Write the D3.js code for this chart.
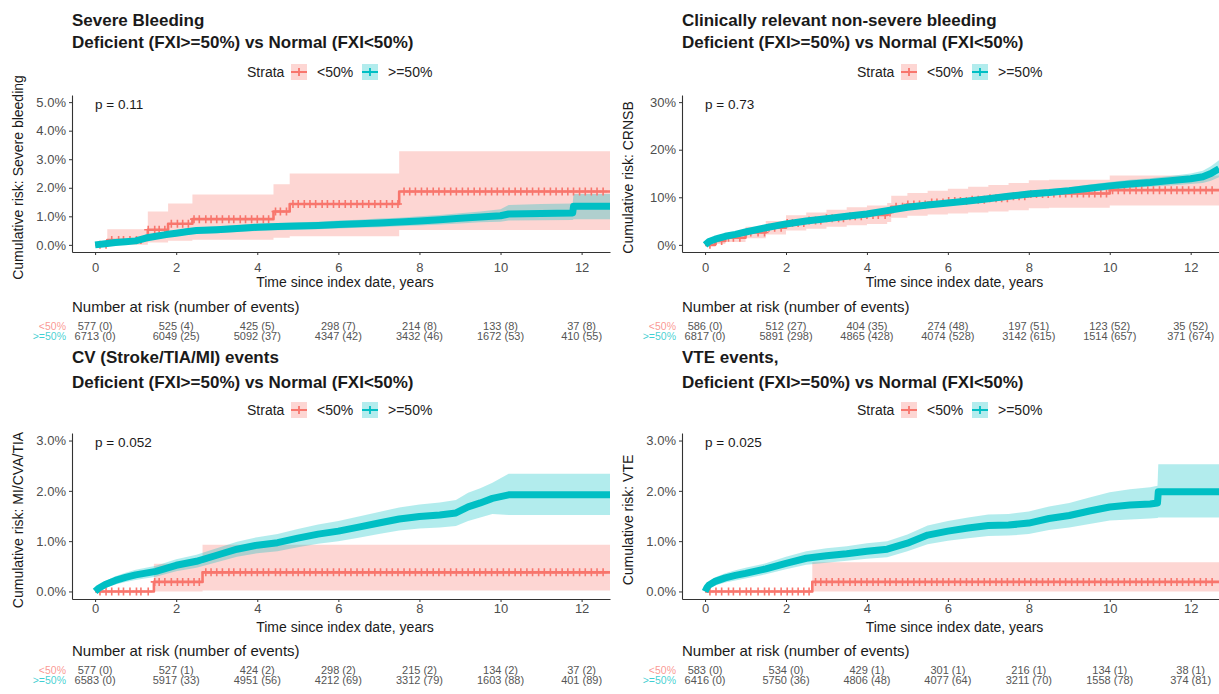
<!DOCTYPE html>
<html>
<head>
<meta charset="utf-8">
<script src="https://cdn.jsdelivr.net/npm/d3@7"></script>
<style>
  body { margin: 0; background: #fff; }
  svg { font-family: "Liberation Sans", Arial, sans-serif; }
</style>
</head>
<body>
<svg id="chart" width="1219" height="694"></svg>
<script>
const xTicks = [0, 2, 4, 6, 8, 10, 12];
const strata = ['<50%', '>=50%'];
const colours = ['#F8766D', '#00BFC4'];

// censoring marks (years) drawn on the <50% curves
const censorT = [0.12, 0.27, 0.41, 0.58, 0.7, 0.86, 1.02, 1.13, 1.31, 1.47, 1.58, 1.72, 1.88, 2.03, 2.16, 2.3, 2.44, 2.57,
  2.73, 2.86, 3.0, 3.14, 3.3, 3.42, 3.58, 3.71, 3.86, 4.0, 4.15, 4.28, 4.45, 4.57, 4.72, 4.88, 5.01, 5.16, 5.3, 5.44, 5.6,
  5.73, 5.88, 6.02, 6.17, 6.31, 6.46, 6.6, 6.75, 6.9, 7.04, 7.19, 7.33, 7.47, 7.62, 7.76, 7.9, 8.05, 8.19, 8.34, 8.48,
  8.62, 8.77, 8.91, 9.06, 9.2, 9.35, 9.49, 9.63, 9.78, 9.92, 10.07, 10.21, 10.36, 10.5, 10.65, 10.79, 10.94, 11.08,
  11.23, 11.37, 11.52, 11.66, 11.8, 11.95, 12.09, 12.24, 12.38, 12.53];

// ---- Severe bleeding ----
const sbRedT   = [0, 0.3, 1.3, 1.8, 2.4, 4.4, 4.8, 7.5, 12.7];
const sbRedEst = [0, 0.17, 0.53, 0.74, 0.9, 1.17, 1.43, 1.87, 1.87];
const sbRedLo  = [0, 0, 0.08, 0.14, 0.18, 0.25, 0.3, 0.52, 0.52];
const sbRedHi  = [0, 0.55, 1.17, 1.45, 1.76, 2.12, 2.5, 3.28, 3.28];
const sbTealT   = [0, 0.25, 0.5, 0.75, 1, 1.25, 1.5, 1.75, 2, 2.25, 2.5, 3, 3.5, 4, 4.5, 5, 5.5, 6, 6.5, 7, 7.5, 8, 8.5, 9, 9.5, 10, 10.2, 11, 11.78, 11.8, 12.7];
const sbTealEst = [0, 0.04, 0.08, 0.11, 0.14, 0.24, 0.3, 0.36, 0.41, 0.46, 0.5, 0.53, 0.57, 0.62, 0.64, 0.66, 0.68, 0.71, 0.74, 0.77, 0.8, 0.84, 0.88, 0.93, 0.98, 1.02, 1.08, 1.1, 1.12, 1.35, 1.35];
const sbTealLo  = [0, 0.01, 0.03, 0.06, 0.08, 0.17, 0.22, 0.27, 0.31, 0.35, 0.39, 0.41, 0.45, 0.49, 0.51, 0.53, 0.55, 0.57, 0.6, 0.62, 0.65, 0.68, 0.71, 0.75, 0.79, 0.81, 0.85, 0.86, 0.87, 0.9, 0.9];
const sbTealHi  = [0, 0.07, 0.13, 0.16, 0.2, 0.31, 0.38, 0.45, 0.51, 0.57, 0.61, 0.65, 0.69, 0.75, 0.77, 0.79, 0.81, 0.85, 0.88, 0.92, 0.95, 1.0, 1.05, 1.11, 1.17, 1.25, 1.4, 1.43, 1.45, 1.78, 1.78];
const sbRiskRed  = ['577 (0)', '525 (4)', '425 (5)', '298 (7)', '214 (8)', '133 (8)', '37 (8)'];
const sbRiskTeal = ['6713 (0)', '6049 (25)', '5092 (37)', '4347 (42)', '3432 (46)', '1672 (53)', '410 (55)'];

// ---- CRNSB ----
const cbRedT   = [0, 0.25, 0.5, 1, 1.5, 2, 2.5, 3, 3.5, 4, 4.5, 4.6, 5, 5.5, 6, 6.5, 7, 7.5, 8, 8.5, 9, 9.9, 10, 12.7];
const cbRedEst = [0, 0.8, 1.5, 2.6, 3.6, 4.6, 5.1, 5.6, 6.0, 6.3, 6.8, 8.0, 8.5, 8.9, 9.2, 9.5, 9.8, 10.2, 10.7, 10.8, 10.8, 10.8, 11.5, 11.5];
const cbRedLo  = [0, 0.2, 0.6, 1.4, 2.2, 3.0, 3.4, 3.8, 4.1, 4.4, 4.8, 5.7, 6.1, 6.4, 6.6, 6.8, 7.0, 7.3, 7.7, 7.8, 7.8, 7.8, 8.3, 8.3];
const cbRedHi  = [0, 1.5, 2.4, 3.8, 5.0, 6.2, 6.8, 7.4, 7.9, 8.3, 8.8, 10.3, 10.9, 11.4, 11.8, 12.2, 12.6, 13.0, 13.6, 13.7, 13.7, 13.7, 14.6, 14.6];
const cbTealT   = [0, 0.1, 0.25, 0.5, 0.75, 1, 1.5, 2, 2.5, 3, 3.5, 4, 4.5, 5, 5.5, 6, 6.5, 7, 7.5, 8, 8.5, 9, 9.5, 10, 10.5, 11, 11.5, 12, 12.3, 12.5, 12.7];
const cbTealEst = [0, 0.7, 1.2, 1.8, 2.2, 2.7, 3.6, 4.4, 5.0, 5.5, 6.0, 6.5, 7.2, 7.9, 8.4, 8.8, 9.2, 9.7, 10.2, 10.7, 11.0, 11.4, 11.9, 12.4, 12.8, 13.1, 13.5, 13.9, 14.3, 15.0, 16.0];
const cbTealLo  = [0, 0.5, 0.95, 1.5, 1.9, 2.3, 3.2, 3.9, 4.5, 5.0, 5.5, 6.0, 6.6, 7.3, 7.8, 8.2, 8.6, 9.1, 9.5, 10.0, 10.3, 10.7, 11.1, 11.6, 11.9, 12.2, 12.5, 12.8, 13.0, 13.5, 14.2];
const cbTealHi  = [0, 0.9, 1.45, 2.1, 2.5, 3.1, 4.0, 4.9, 5.5, 6.0, 6.5, 7.0, 7.8, 8.5, 9.0, 9.4, 9.8, 10.3, 10.9, 11.4, 11.7, 12.1, 12.7, 13.2, 13.7, 14.0, 14.5, 15.0, 15.6, 16.5, 17.8];
const cbRiskRed  = ['586 (0)', '512 (27)', '404 (35)', '274 (48)', '197 (51)', '123 (52)', '35 (52)'];
const cbRiskTeal = ['6817 (0)', '5891 (298)', '4865 (428)', '4074 (528)', '3142 (615)', '1514 (657)', '371 (674)'];

// ---- CV events ----
const cvRedT   = [0, 1.45, 2.65, 12.7];
const cvRedEst = [0, 0.19, 0.38, 0.38];
const cvRedLo  = [0, 0, 0.02, 0.02];
const cvRedHi  = [0, 0.55, 0.93, 0.93];
const cvTealT   = [0, 0.1, 0.25, 0.5, 0.75, 1, 1.5, 2, 2.5, 3, 3.5, 4, 4.5, 5, 5.5, 6, 6.5, 7, 7.5, 8, 8.5, 8.9, 9.2, 9.5, 9.8, 10.2, 12.7];
const cvTealEst = [0, 0.07, 0.14, 0.22, 0.28, 0.33, 0.4, 0.52, 0.6, 0.72, 0.84, 0.92, 0.97, 1.06, 1.14, 1.2, 1.28, 1.36, 1.44, 1.49, 1.52, 1.56, 1.68, 1.76, 1.85, 1.92, 1.92];
const cvTealLo  = [0, 0.02, 0.07, 0.14, 0.19, 0.23, 0.29, 0.4, 0.47, 0.58, 0.69, 0.76, 0.8, 0.88, 0.95, 1.0, 1.07, 1.14, 1.21, 1.25, 1.27, 1.3, 1.4, 1.47, 1.54, 1.52, 1.52];
const cvTealHi  = [0, 0.12, 0.21, 0.3, 0.37, 0.43, 0.51, 0.64, 0.73, 0.86, 0.99, 1.08, 1.14, 1.24, 1.33, 1.4, 1.49, 1.58, 1.67, 1.73, 1.77, 1.82, 1.96, 2.05, 2.16, 2.34, 2.34];
const cvRiskRed  = ['577 (0)', '527 (1)', '424 (2)', '298 (2)', '215 (2)', '134 (2)', '37 (2)'];
const cvRiskTeal = ['6583 (0)', '5917 (33)', '4951 (56)', '4212 (69)', '3312 (79)', '1603 (88)', '401 (89)'];

// ---- VTE events ----
const vtRedT   = [0, 2.65, 12.7];
const vtRedEst = [0, 0.19, 0.19];
const vtRedLo  = [0, 0, 0];
const vtRedHi  = [0, 0.58, 0.58];
const vtTealT   = [0, 0.05, 0.1, 0.25, 0.5, 0.75, 1, 1.5, 2, 2.5, 3, 3.5, 4, 4.5, 5, 5.5, 6, 6.5, 7, 7.5, 8, 8.5, 9, 9.5, 10, 10.5, 11, 11.18, 11.2, 12.7];
const vtTealEst = [0, 0.08, 0.13, 0.2, 0.27, 0.32, 0.36, 0.45, 0.56, 0.66, 0.71, 0.75, 0.8, 0.84, 0.96, 1.12, 1.2, 1.26, 1.31, 1.32, 1.36, 1.45, 1.51, 1.6, 1.68, 1.72, 1.74, 1.76, 1.98, 1.98];
const vtTealLo  = [0, 0.03, 0.06, 0.12, 0.18, 0.22, 0.26, 0.34, 0.44, 0.53, 0.57, 0.61, 0.65, 0.68, 0.8, 0.94, 1.01, 1.06, 1.1, 1.11, 1.14, 1.22, 1.27, 1.34, 1.41, 1.43, 1.45, 1.46, 1.47, 1.47];
const vtTealHi  = [0, 0.13, 0.2, 0.28, 0.36, 0.42, 0.47, 0.56, 0.69, 0.8, 0.86, 0.9, 0.96, 1.0, 1.13, 1.31, 1.4, 1.47, 1.53, 1.54, 1.59, 1.69, 1.76, 1.87, 1.97, 2.03, 2.07, 2.1, 2.53, 2.53];
const vtRiskRed  = ['583 (0)', '534 (0)', '429 (1)', '301 (1)', '216 (1)', '134 (1)', '38 (1)'];
const vtRiskTeal = ['6416 (0)', '5750 (36)', '4806 (48)', '4077 (64)', '3211 (70)', '1558 (78)', '374 (81)'];

const zip = (t, e, lo, hi) => t.map((v, i) => ({ t: v, est: e[i], lo: lo[i], hi: hi[i] }));

// row layout (vertical positions)
const topRow = { t1: 20, t2: 42, leg: 72, top: 95, bottom: 252, xlab: 267, xtitle: 282, riskHead: 307, r1: 326, r2: 336 };
const botRow = { t1: 357, t2: 382, leg: 410, top: 433, bottom: 599, xlab: 608, xtitle: 627, riskHead: 651, r1: 670, r2: 680 };

const panels = [
  { ox: 0, row: topRow, title: 'Severe Bleeding', ylab: 'Cumulative risk: Severe bleeding', p: 'p = 0.11',
    ymax: 5, yticks: [0, 1, 2, 3, 4, 5], fmt: d => d.toFixed(1) + '%',
    red: zip(sbRedT, sbRedEst, sbRedLo, sbRedHi), teal: zip(sbTealT, sbTealEst, sbTealLo, sbTealHi),
    risk: [sbRiskRed, sbRiskTeal] },
  { ox: 610, row: topRow, title: 'Clinically relevant non-severe bleeding', ylab: 'Cumulative risk: CRNSB', p: 'p = 0.73',
    ymax: 30, yticks: [0, 10, 20, 30], fmt: d => d + '%',
    red: zip(cbRedT, cbRedEst, cbRedLo, cbRedHi), teal: zip(cbTealT, cbTealEst, cbTealLo, cbTealHi),
    risk: [cbRiskRed, cbRiskTeal] },
  { ox: 0, row: botRow, title: 'CV (Stroke/TIA/MI) events', ylab: 'Cumulative risk: MI/CVA/TIA', p: 'p = 0.052',
    ymax: 3, yticks: [0, 1, 2, 3], fmt: d => d.toFixed(1) + '%',
    red: zip(cvRedT, cvRedEst, cvRedLo, cvRedHi), teal: zip(cvTealT, cvTealEst, cvTealLo, cvTealHi),
    risk: [cvRiskRed, cvRiskTeal] },
  { ox: 610, row: botRow, title: 'VTE events,', ylab: 'Cumulative risk: VTE', p: 'p = 0.025',
    ymax: 3, yticks: [0, 1, 2, 3], fmt: d => d.toFixed(1) + '%',
    red: zip(vtRedT, vtRedEst, vtRedLo, vtRedHi), teal: zip(vtTealT, vtTealEst, vtTealLo, vtTealHi),
    risk: [vtRiskRed, vtRiskTeal] }
];

const svg = d3.select('#chart');

panels.forEach((pn, k) => {
  const r = pn.row;
  const g = svg.append('g').attr('transform', 'translate(' + pn.ox + ',0)');
  const left = 72, right = k % 2 === 0 ? 610 : 609;

  const x = d3.scaleLinear().domain([-0.57, 12.7]).range([left, right]);
  const pad = pn.ymax * 0.05;
  const y = d3.scaleLinear().domain([-pad, pn.ymax + pad]).range([r.bottom, r.top]);

  // titles
  g.append('text').attr('x', left).attr('y', r.t1).attr('dy', '0.35em')
    .style('font-size', '17px').style('font-weight', 'bold').attr('fill', '#1a1a1a').text(pn.title);
  g.append('text').attr('x', left).attr('y', r.t2).attr('dy', '0.35em')
    .style('font-size', '17px').style('font-weight', 'bold').attr('fill', '#1a1a1a')
    .text('Deficient (FXI>=50%) vs Normal (FXI<50%)');

  // legend
  const leg = g.append('g').attr('transform', 'translate(0,' + r.leg + ')');
  leg.append('text').attr('x', 247).attr('dy', '0.35em').style('font-size', '14px').attr('fill', '#222').text('Strata');
  [291, 362].forEach((kx, i) => {
    leg.append('rect').attr('x', kx).attr('y', -8).attr('width', 16).attr('height', 16)
      .attr('fill', colours[i]).attr('fill-opacity', 0.3);
    leg.append('path').attr('d', 'M' + kx + ',0H' + (kx + 16) + 'M' + (kx + 8) + ',-4V4')
      .attr('stroke', colours[i]).attr('stroke-width', 1.8);
    leg.append('text').attr('x', kx + 26).attr('dy', '0.35em').style('font-size', '14px').attr('fill', '#222')
      .text(strata[i]);
  });

  // plot body
  const clipId = 'clip' + k;
  g.append('clipPath').attr('id', clipId).append('rect')
    .attr('x', left).attr('y', r.top - 4).attr('width', right - left).attr('height', r.bottom - r.top + 4);
  const body = g.append('g').attr('clip-path', 'url(#' + clipId + ')');

  // <50% curves are step functions; >=50% curves have so many events they render as a smooth band
  const curves = [d3.curveStepAfter, d3.curveLinear];
  [pn.red, pn.teal].forEach((s, i) => {
    const area = d3.area().curve(curves[i]).x(d => x(d.t)).y0(d => y(d.lo)).y1(d => y(d.hi));
    body.append('path').datum(s).attr('d', area).attr('fill', colours[i]).attr('fill-opacity', 0.3);
  });

  const stepAt = (s, t) => { let v = s[0].est; s.forEach(d => { if (d.t <= t) v = d.est; }); return v; };
  [pn.red, pn.teal].forEach((s, i) => {
    const line = d3.line().curve(curves[i]).x(d => x(d.t)).y(d => y(d.est));
    body.append('path').datum(s).attr('d', line).attr('fill', 'none')
      .attr('stroke', colours[i]).attr('stroke-width', i === 0 ? 2.6 : 7)
      .attr('stroke-linejoin', 'round');
    if (i === 0) {
      body.append('g').selectAll('path').data(censorT).join('path')
        .attr('transform', t => 'translate(' + x(t) + ',' + y(stepAt(s, t)) + ')')
        .attr('d', 'M-4,0H4M0,-4V4')
        .attr('stroke', colours[i]).attr('stroke-width', 1.6).attr('fill', 'none');
    }
  });

  // axes
  const yAxis = g.append('g').attr('transform', 'translate(' + left + ',0)')
    .call(d3.axisLeft(y).tickValues(pn.yticks).tickFormat(pn.fmt).tickSize(3).tickSizeOuter(0).tickPadding(3));
  const xAxis = g.append('g').attr('transform', 'translate(0,' + r.bottom + ')')
    .call(d3.axisBottom(x).tickValues(xTicks).tickSize(3).tickSizeOuter(0).tickPadding(3));
  [yAxis, xAxis].forEach(a => {
    a.select('.domain').attr('stroke', '#333').attr('stroke-width', 1.1);
    a.selectAll('.tick line').attr('stroke', '#333');
    a.selectAll('.tick text').attr('fill', '#4d4d4d').style('font-size', '13px')
      .style('font-family', '"Liberation Sans", Arial, sans-serif');
  });
  xAxis.selectAll('.tick text').attr('dy', null).attr('y', r.xlab - r.bottom).attr('dominant-baseline', 'central');

  g.append('text').attr('x', (left + right) / 2 + 4).attr('y', r.xtitle).attr('dy', '0.35em')
    .attr('text-anchor', 'middle').style('font-size', '14px').attr('fill', '#1a1a1a')
    .text('Time since index date, years');
  g.append('text').attr('transform', 'translate(18,' + ((r.top + r.bottom) / 2 + 4) + ') rotate(-90)')
    .attr('text-anchor', 'middle').attr('dy', '0.35em').style('font-size', '14px').attr('fill', '#1a1a1a')
    .text(pn.ylab);

  g.append('text').attr('x', x(0)).attr('y', y(pn.ymax) + 2).attr('dy', '0.35em')
    .style('font-size', '13.5px').attr('fill', '#1a1a1a').text(pn.p);

  // risk table
  g.append('text').attr('x', left).attr('y', r.riskHead).attr('dy', '0.35em')
    .style('font-size', '15px').attr('fill', '#1a1a1a').text('Number at risk (number of events)');
  [r.r1, r.r2].forEach((ry, i) => {
    g.append('text').attr('x', 66).attr('y', ry).attr('dy', '0.35em').attr('text-anchor', 'end')
      .style('font-size', '10.5px').attr('fill', colours[i]).attr('fill-opacity', 0.75).text(strata[i]);
    g.append('g').selectAll('text').data(pn.risk[i]).join('text')
      .attr('x', (d, j) => x(xTicks[j])).attr('y', ry).attr('dy', '0.35em').attr('text-anchor', 'middle')
      .style('font-size', '11px').attr('fill', '#555').text(d => d);
  });
});
</script>
</body>
</html>
